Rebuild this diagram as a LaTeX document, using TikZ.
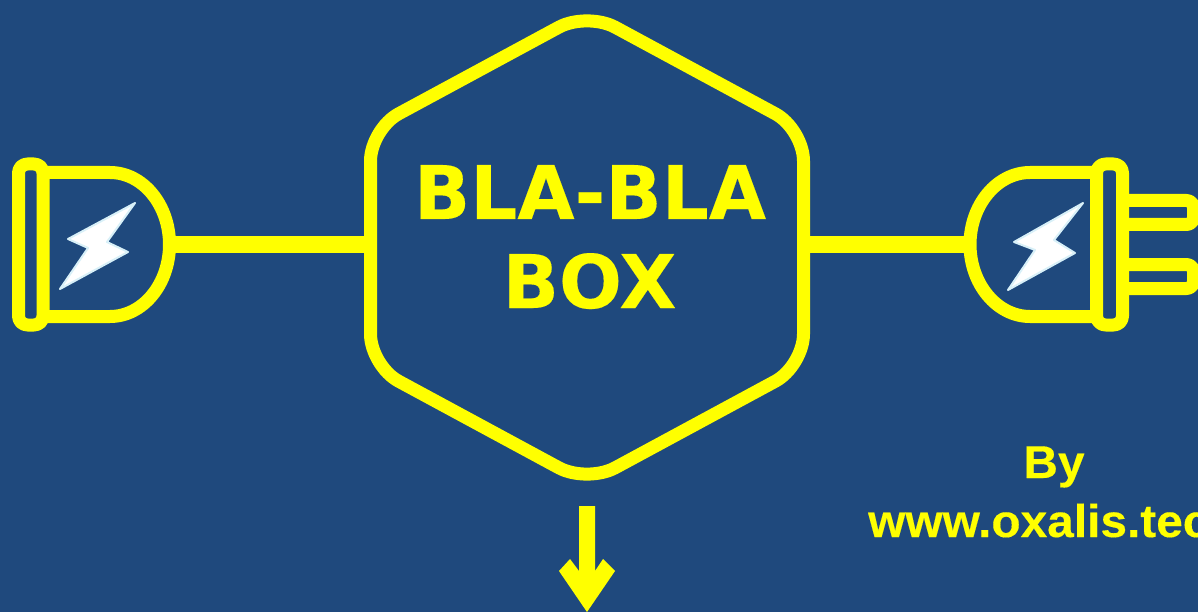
\documentclass[tikz,border=0pt]{standalone}
\usepackage{fontspec}
\setmainfont[BoldFeatures={FakeBold=0.25}]{Liberation Sans}
\newfontfamily\boxfont[BoldFeatures={FakeBold=0.2}]{DejaVu Sans}
\definecolor{bgblue}{HTML}{1F497D}
\definecolor{plugyellow}{HTML}{FFFF00}
\definecolor{boltedge}{HTML}{D8F0F8}
\tikzset{
  outline/.style={draw=plugyellow,line width=13pt,line join=round},
  wire/.style={draw=plugyellow,line width=16pt},
  bolt/.style={fill=white,draw=boltedge,line width=2pt,line join=round},
  boxtext/.style={text=plugyellow,font=\boxfont\bfseries\fontsize{74}{74}\selectfont,inner sep=0pt,anchor=base},
  bytext/.style={text=plugyellow,font=\bfseries\fontsize{46}{46}\selectfont,inner sep=0pt,anchor=base,xscale=1.04}
}
\begin{document}
\begin{tikzpicture}[x=1pt,y=-1pt]
\useasboundingbox (0,0) rectangle (1198,612);
\clip (0,0) rectangle (1198,612);
\fill[bgblue] (0,0) rectangle (1198,612);
% connector anchors
\coordinate (hexL) at (370.5,244.5);
\coordinate (hexR) at (803.5,244.5);
\coordinate (plugL) at (169.5,244.5);
\coordinate (plugR) at (970,244.5);
\draw[wire] (plugL) -- (hexL);
\draw[wire] (hexR) -- (plugR);
% hexagon
\draw[outline,rounded corners=32pt] (587,12) -- (803.5,129) -- (803.5,366) -- (587,483) -- (370.5,366) -- (370.5,129) -- cycle;
% text
\node[boxtext] (t1) at (590,219) {BLA-BLA};
\node[boxtext] (t2) at (589.5,308) {BOX};
\node[bytext] (by) at (1054,478) {By};
\node[bytext,anchor=base west] (url) at (868,537) {www.oxalis.tec};
% left plug
\draw[outline,line join=miter] (43,172.5) -- (110,172.5) .. controls (143,172.5) and (169.5,205) .. (169.5,244.5) .. controls (169.5,284) and (143,316.5) .. (110,316.5) -- (43,316.5);
\draw[outline,rounded corners=9pt] (18.5,164) rectangle (43,325);
\filldraw[bolt] (135,203) -- (68,239) -- (88,248) -- (60,289) -- (128,252) -- (107,242) -- cycle;
% right plug
\draw[outline,line join=miter] (1096.5,172.5) -- (1030,172.5) .. controls (997,172.5) and (970,205) .. (970,244.5) .. controls (970,284) and (997,316.5) .. (1030,316.5) -- (1096.5,316.5);
\draw[outline,rounded corners=9pt] (1096.5,164) rectangle (1122.5,325);
\draw[outline,rounded corners=7pt] (1122.5,200.5) -- (1193.5,200.5) -- (1193.5,224.5) -- (1122.5,224.5);
\draw[outline,rounded corners=7pt] (1122.5,264.5) -- (1193.5,264.5) -- (1193.5,288.5) -- (1122.5,288.5);
\filldraw[bolt] (1083,203) -- (1014,242) -- (1035,250) -- (1008,290) -- (1075,253) -- (1054,240) -- cycle;
% down arrow
\fill[plugyellow] (579,506) -- (595,506) -- (595,571) -- (603,559) -- (615,571) -- (587,612) -- (559,571) -- (570,559) -- (579,571) -- cycle;
\end{tikzpicture}
\end{document}
